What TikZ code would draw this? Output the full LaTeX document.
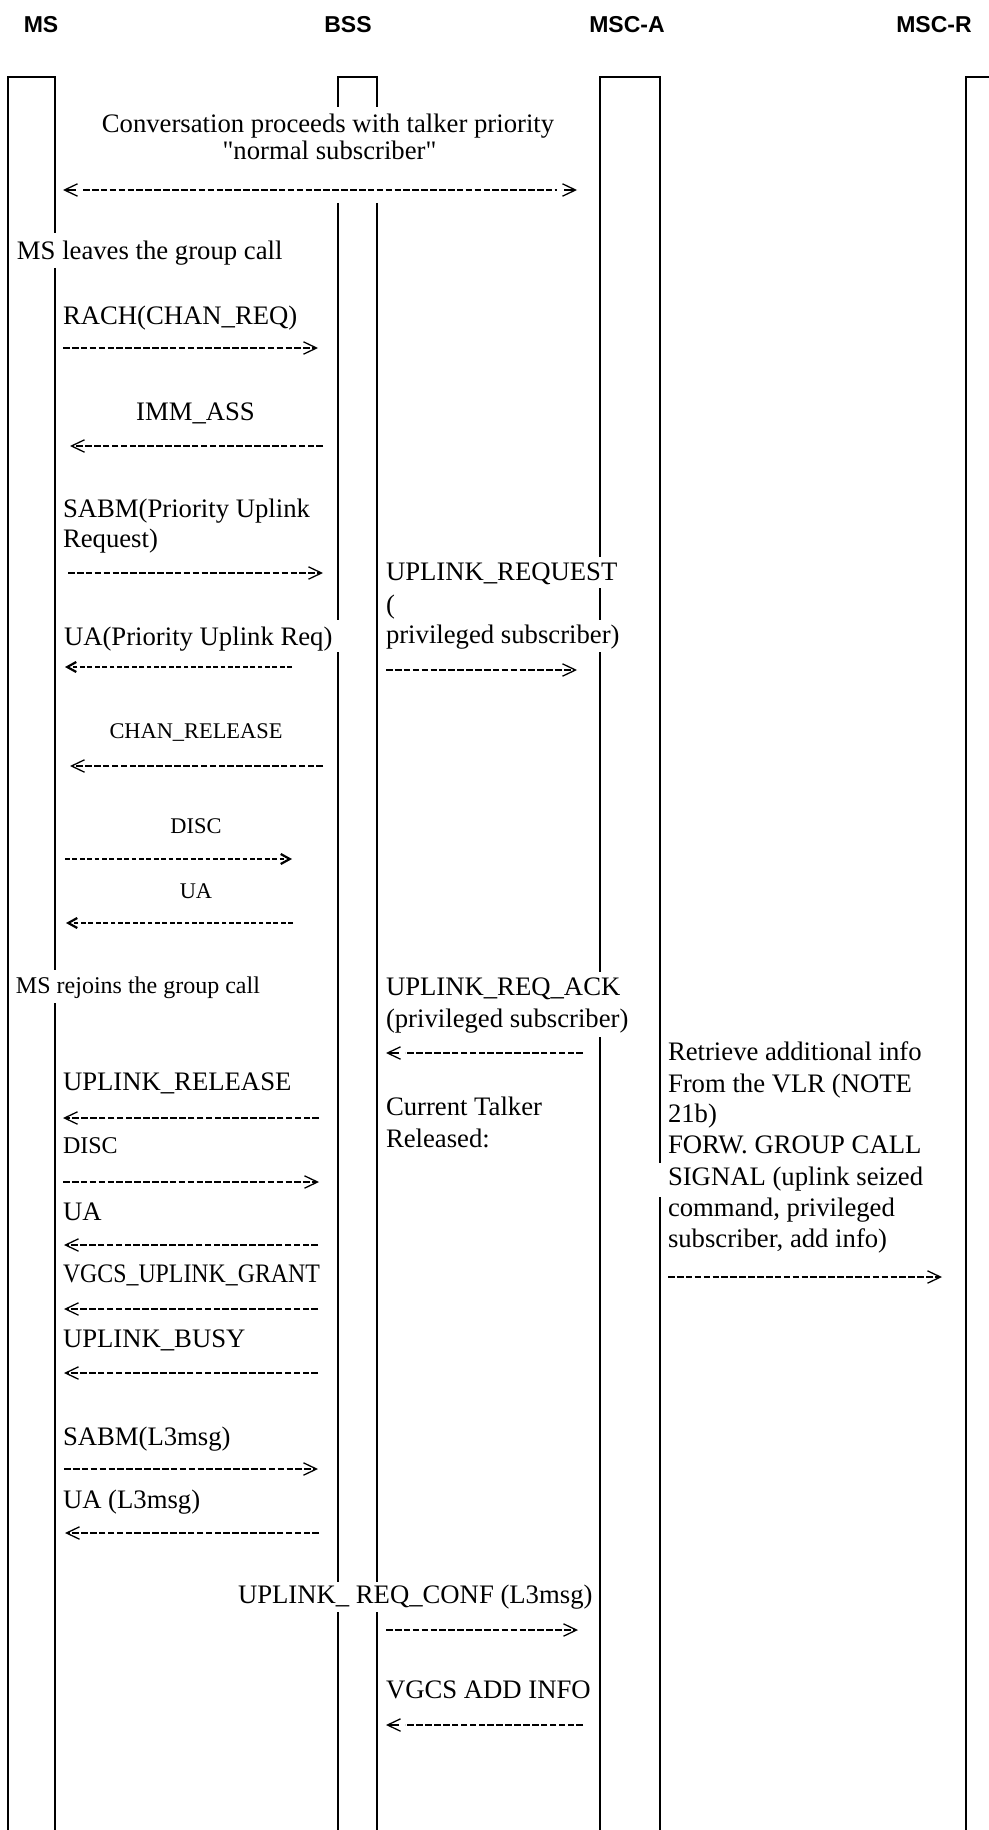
\documentclass[tikz,border=0pt]{standalone}
\usepackage{graphicx}
\usepackage{fontspec}
\setmainfont{Liberation Serif}
\newfontfamily\qfont{Liberation Serif}[Ligatures=TeXOff]
\newfontfamily\hdrfont{Liberation Sans}
\usetikzlibrary{arrows.meta}
\newcommand\fsmain{\fontsize{13.35}{15.6}\selectfont}
\newcommand\fssmall{\fontsize{11.2}{13}\selectfont}
\newcommand\fsmid{\fontsize{12}{14}\selectfont}
\newcommand\fshdr{\hdrfont\bfseries\fontsize{11.5}{13}\selectfont}
\newcommand\msgarrow[5]{\coordinate (#1s) at (#2,#4); \coordinate (#1e) at (#3,#4); \draw[#5] (#1s) -- (#1e);}
\begin{document}
\begin{tikzpicture}[x=0.5pt,y=-0.5pt,
  life/.style={line width=1.1pt},
  txt/.style={inner sep=0pt,outer sep=0pt,anchor=base west,font=\fsmain},
  ctxt/.style={inner sep=0pt,outer sep=0pt,anchor=base,font=\fsmain},
  hdr/.style={inner sep=0pt,outer sep=0pt,anchor=base,font=\fshdr},
  dashline/.style={line width=0.65pt,dash pattern=on 3.3pt off 1.15pt},
  msg/.style={dashline,-{Straight Barb[length=6.5pt,width=6.2pt]}},
  spaced/.style={dashline,shorten >=9.5pt},
  spacedboth/.style={dashline,shorten >=10pt,shorten <=10pt},
  tiponly/.style={line width=0.65pt,-{Straight Barb[length=6.5pt,width=6.2pt]}},
  boldmsg/.style={line width=1.1pt,dash pattern=on 2.4pt off 1.3pt,-{Straight Barb[length=4.5pt,width=5pt]}}
]
\fill[white] (0,0) rectangle (989,1830);
\useasboundingbox (0,0) rectangle (989,1830);

% headers
\node[hdr] (hMS) at (41,33) {MS};
\node[hdr] (hBSS) at (348,33) {BSS};
\node[hdr] (hMSCA) at (627,33) {MSC-A};
\node[hdr] (hMSCR) at (934,33) {MSC-R};

% lifelines
\draw[life] (8,1830) -- (8,77) -- (55,77) -- (55,233);
\draw[life] (55,268) -- (55,970);
\draw[life] (55,1003) -- (55,1830);
\draw[life] (338,107) -- (338,77) -- (377,77) -- (377,107);
\draw[life] (338,203) -- (338,620);
\draw[life] (338,652) -- (338,1582);
\draw[life] (338,1612) -- (338,1830);
\draw[life] (377,203) -- (377,1582);
\draw[life] (377,1612) -- (377,1830);
\draw[life] (600,557) -- (600,77) -- (660,77) -- (660,1163);
\draw[life] (600,588) -- (600,620);
\draw[life] (600,652) -- (600,972);
\draw[life] (600,1037) -- (600,1830);
\draw[life] (660,1197) -- (660,1830);
\draw[life] (966,1830) -- (966,77) -- (989,77);

% texts
\node[ctxt] (conv1) at (328,133) {Conversation proceeds with talker priority};
\node[ctxt] (conv2) at (329.5,160) {{\qfont"}normal subscriber{\qfont"}};
\node[txt] (leaves) at (17,260) {MS leaves the group call};
\node[txt] (rach) at (63,324) {RACH(CHAN\_REQ)};
\node[ctxt] (imm) at (195.5,420) {IMM\_ASS};
\node[txt] (sabm1) at (63,517) {SABM(Priority Uplink};
\node[txt] (sabm2) at (63,547) {Request)};
\node[txt] (uapr) at (64,645) {UA(Priority Uplink Req)};
\node[txt] (ulr1) at (386,580) {UPLINK\_REQUEST};
\node[txt] (ulr2) at (386,613) {(};
\node[txt] (ulr3) at (386,643) {privileged subscriber)};
\node[ctxt,font=\fssmall] (chrel) at (196,738) {CHAN\_RELEASE};
\node[ctxt,font=\fssmall] (disc1) at (196,833) {DISC};
\node[ctxt,font=\fssmall] (ua1) at (196,898) {UA};
\node[txt,font=\fsmid] (rejoin) at (16,993) {MS rejoins the group call};
\node[txt] (ack1) at (386,995) {UPLINK\_REQ\_ACK};
\node[txt] (ack2) at (386,1027) {(privileged subscriber)};
\node[txt] (cur1) at (386,1115) {Current Talker};
\node[txt] (cur2) at (386,1147) {Released:};
\node[txt] (ret1) at (668,1060) {Retrieve additional info};
\node[txt] (ret2) at (668,1092) {From the VLR (NOTE};
\node[txt] (ret3) at (668,1122) {21b)};
\node[txt] (ret4) at (668,1153) {FORW. GROUP CALL};
\node[txt] (ret5) at (668,1185) {SIGNAL (uplink seized};
\node[txt] (ret6) at (668,1216) {command, privileged};
\node[txt] (ret7) at (668,1247) {subscriber, add info)};
\node[txt] (uprel) at (63,1090) {UPLINK\_RELEASE};
\node[txt,font=\fsmid] (disc2) at (63,1153) {DISC};
\node[txt] (ua2) at (63,1220) {UA};
\node[txt] (grant) at (63,1282) {\scalebox{0.893}[1]{VGCS\_UPLINK\_GRANT}};
\node[txt] (busy) at (63,1347) {UPLINK\_BUSY};
\node[txt] (sabm3) at (63,1445) {SABM(L3msg)};
\node[txt] (ua3) at (63,1508) {UA (L3msg)};
\node[txt] (conf) at (238,1603) {UPLINK\_ REQ\_CONF (L3msg)};
\node[txt] (add) at (386,1698) {VGCS ADD INFO};

% messages
\msgarrow{conv}{63}{577}{190}{spacedboth}
\draw[tiponly] ([xshift=6.5pt]convs) -- (convs);
\draw[tiponly] ([xshift=-6.5pt]conve) -- (conve);
\msgarrow{rach}{63}{318}{348}{msg}
\msgarrow{imm}{323}{70}{446}{msg}
\msgarrow{sabm}{68}{323}{573}{msg}
\msgarrow{uapr}{292}{65}{667}{boldmsg}
\msgarrow{ulr}{386}{577}{670}{msg}
\msgarrow{chrel}{323}{70}{766}{msg}
\msgarrow{discA}{65}{292}{859}{boldmsg}
\msgarrow{uaA}{293}{66}{923}{boldmsg}
\msgarrow{ack}{583}{386}{1053}{spaced}
\draw[tiponly] ([xshift=6.5pt]acke) -- (acke);
\msgarrow{ret}{668}{942}{1277}{msg}
\msgarrow{uprel}{319}{63}{1118}{msg}
\msgarrow{discB}{63}{319}{1182}{msg}
\msgarrow{uaB}{318}{64}{1245}{msg}
\msgarrow{grant}{318}{64}{1309}{msg}
\msgarrow{busy}{318}{64}{1373}{msg}
\msgarrow{sabmB}{64}{318}{1469}{msg}
\msgarrow{uaC}{319}{65}{1533}{msg}
\msgarrow{conf}{386}{578}{1630}{msg}
\msgarrow{add}{583}{386}{1725}{spaced}
\draw[tiponly] ([xshift=6.5pt]adde) -- (adde);
\end{tikzpicture}
\end{document}
